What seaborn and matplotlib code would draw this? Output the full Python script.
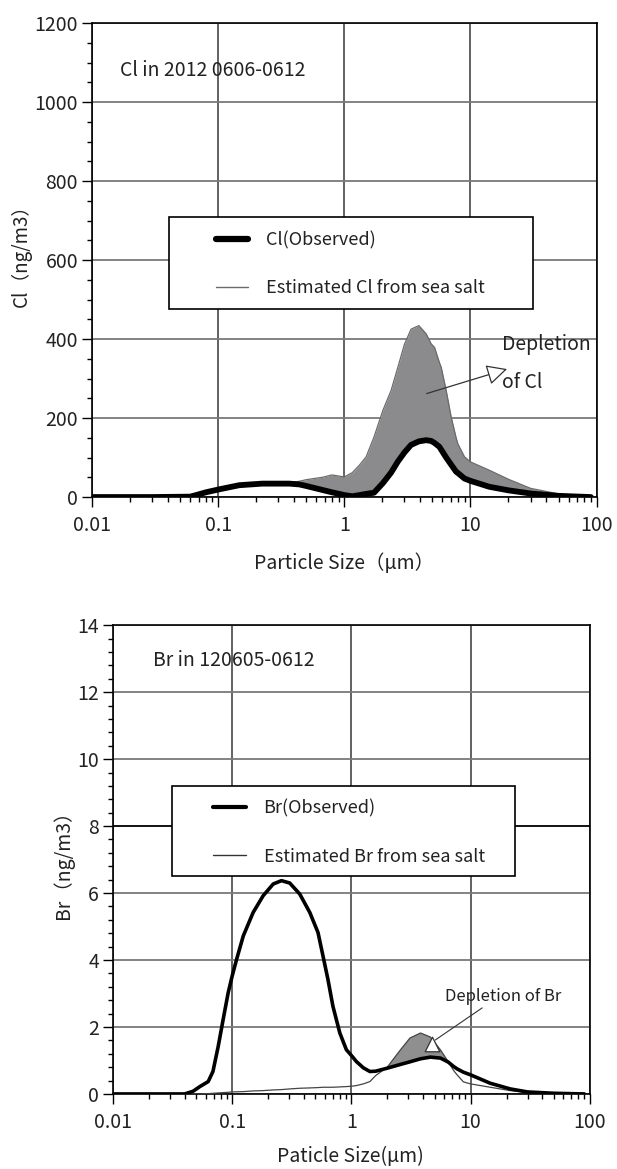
import numpy as np
import pandas as pd
import matplotlib
matplotlib.use("Agg")
import matplotlib.pyplot as plt
import seaborn as sns
from matplotlib.ticker import FixedLocator, FixedFormatter, MultipleLocator, LogLocator, NullFormatter
from matplotlib.lines import Line2D
from matplotlib.patches import Rectangle

# ---------------- data ----------------
cl_size = [0.01, 0.03, 0.06, 0.067, 0.08, 0.1, 0.147, 0.224, 0.367, 0.44, 0.5, 0.67, 0.8, 0.91,
           1.0, 1.16, 1.32, 1.49, 1.72, 2.02, 2.35, 2.66, 3.0, 3.38, 3.9, 4.46, 4.88, 5.19,
           5.68, 5.86, 6.42, 7.03, 7.7, 7.94, 8.96, 10, 14.1, 20, 30, 50, 90]
cl_observed = [0, 0, 1, 5, 12, 19, 30, 34, 34, 32, 28, 18, 12, 8,
               5, 2, 5, 8, 11, 35, 62, 90, 113, 132, 141, 144, 142, 137,
               127, 120, 100, 82, 64, 61, 47, 41, 26, 17, 9, 3, 0]
cl_seasalt = [0, 0, 1, 5, 12, 19, 30, 34, 36, 40, 44, 50, 56, 53,
              51, 62, 81, 102, 152, 219, 270, 329, 387, 425, 434, 413, 388, 379,
              340, 329, 270, 203, 150, 135, 102, 89, 68, 45, 22, 8, 2]

br_size = [0.01, 0.04, 0.047, 0.0536, 0.063, 0.069, 0.0764, 0.084, 0.0926, 0.1, 0.109, 0.124,
           0.15, 0.182, 0.221, 0.259, 0.304, 0.369, 0.448, 0.525, 0.578, 0.636, 0.70, 0.80,
           0.908, 1.0, 1.10, 1.26, 1.43, 1.6, 2.0, 2.57, 3.1, 3.8, 4.6, 5.6, 6.5, 7.2, 7.7,
           8.7, 10, 14.6, 21.5, 30, 50, 90]
br_observed = [0, 0, 0.08, 0.22, 0.37, 0.67, 1.42, 2.22, 3.02, 3.52, 4.02, 4.72,
               5.42, 5.92, 6.27, 6.37, 6.30, 5.97, 5.42, 4.82, 4.12, 3.42, 2.62, 1.82,
               1.32, 1.15, 0.97, 0.78, 0.67, 0.68, 0.77, 0.88, 0.96, 1.05, 1.10, 1.07, 0.95,
               0.82, 0.75, 0.65, 0.57, 0.32, 0.15, 0.06, 0.02, 0]
br_seasalt = [0, 0, 0, 0, 0.01, 0.02, 0.03, 0.04, 0.05, 0.06, 0.065, 0.07,
              0.09, 0.10, 0.12, 0.13, 0.15, 0.17, 0.18, 0.19, 0.2, 0.2, 0.2, 0.21,
              0.22, 0.23, 0.25, 0.3, 0.37, 0.55, 0.8, 1.31, 1.67, 1.82, 1.70, 1.31, 0.96,
              0.7, 0.57, 0.36, 0.3, 0.2, 0.1, 0.04, 0.01, 0]

x_ticks = [0.01, 0.1, 1, 10, 100]
x_tick_labels = ["0.01", "0.1", "1", "10", "100"]
cl_yticks = [0, 200, 400, 600, 800, 1000, 1200]
br_yticks = [0, 2, 4, 6, 8, 10, 12, 14]

# ---------------- style ----------------
sns.set_theme(style="white")
plt.rcParams["font.family"] = ["Noto Sans CJK JP", "DejaVu Sans"]
plt.rcParams["axes.unicode_minus"] = False

fig = plt.figure(figsize=(6.17, 11.69), dpi=100)
fig.patch.set_facecolor("white")
ax1 = fig.add_axes([0.149, 0.5748, 0.818, 0.4055])
ax2 = fig.add_axes([0.183, 0.0642, 0.773, 0.401])


def style_axes(ax, yticks, yminor, ymax):
    ax.set_xscale("log")
    ax.set_xlim(0.01, 100)
    ax.set_ylim(0, ymax)
    ax.xaxis.set_major_locator(FixedLocator(x_ticks))
    ax.xaxis.set_major_formatter(FixedFormatter(x_tick_labels))
    ax.xaxis.set_minor_locator(LogLocator(base=10, subs=np.arange(2, 10)))
    ax.xaxis.set_minor_formatter(NullFormatter())
    ax.yaxis.set_major_locator(FixedLocator(yticks))
    ax.yaxis.set_major_formatter(FixedFormatter([str(v) for v in yticks]))
    ax.yaxis.set_minor_locator(MultipleLocator(yminor))
    ax.tick_params(which="both", direction="out", color="black", width=1.0,
                   bottom=True, left=True, top=False, right=False)
    ax.tick_params(which="major", length=7, labelsize=14, labelcolor="#222222")
    ax.tick_params(which="minor", length=3.5)
    ax.tick_params(axis="x", which="major", pad=6)
    ax.tick_params(axis="y", which="major", pad=3)
    for s in ax.spines.values():
        s.set_visible(True)
        s.set_color("black")
        s.set_linewidth(1.2)
    ax.set_axisbelow(True)
    ax.grid(True, which="major", axis="y", color="#7a7a7a", lw=1.3)
    ax.grid(True, which="major", axis="x", color="#555555", lw=1.3)


# ---------------- top: Cl ----------------
style_axes(ax1, cl_yticks, 50, 1200)
ax1.fill_between(cl_size, cl_observed, cl_seasalt,
                 where=np.array(cl_seasalt) >= np.array(cl_observed),
                 interpolate=True, color="#8b8b8d", lw=0, zorder=2)
sns.lineplot(x=cl_size, y=cl_seasalt, ax=ax1, color="#6a6a6a", lw=0.9,
             estimator=None, sort=False, zorder=3)
sns.lineplot(x=cl_size, y=cl_observed, ax=ax1, color="black", lw=4.2,
             estimator=None, sort=False, zorder=4)
ax1.set_xlim(0.01, 100)
ax1.set_ylim(0, 1200)

ax1.set_xlabel("Particle Size（μm）", fontsize=14, color="#222222")
ax1.xaxis.set_label_coords(0.5, -0.141)
ax1.xaxis.label.set_va("center")
ax1.set_ylabel("Cl（ng/m3）", fontsize=13.5, color="#222222")
ax1.yaxis.set_label_coords(-0.139, 0.519)
ax1.yaxis.label.set_va("center")

ax1.text(0.0167, 1081, "Cl in 2012 0606-0612", fontsize=14, va="center", ha="left",
         color="#222222")
ax1.text(17.9, 385, "Depletion", fontsize=14, va="center", ha="left", color="#222222")
ax1.text(17.9, 289, "of Cl", fontsize=14, va="center", ha="left", color="#222222")
ax1.annotate("", xy=(19.5, 324), xytext=(4.5, 262),
             arrowprops=dict(arrowstyle="-|>,head_length=0.9,head_width=0.45",
                             fc="white", ec="#333333", lw=0.9, shrinkA=0, shrinkB=0,
                             mutation_scale=14), zorder=6)

ax1.add_patch(Rectangle((0.152, 0.397), 0.721, 0.194, transform=ax1.transAxes,
                        facecolor="white", edgecolor="black", lw=1.2, zorder=5))
leg1 = ax1.legend(handles=[Line2D([], [], color="black", lw=4.5),
                           Line2D([], [], color="#6a6a6a", lw=1.0)],
                  labels=["Cl(Observed)", "Estimated Cl from sea salt"],
                  loc="upper left", bbox_to_anchor=(0.245, 0.561), frameon=False,
                  fontsize=13, handlelength=1.8, handletextpad=1.0, labelspacing=1.65,
                  borderpad=0, borderaxespad=0, labelcolor="#222222")
leg1.set_zorder(7)

# ---------------- bottom: Br ----------------
style_axes(ax2, br_yticks, 0.4, 14)
ax2.fill_between(br_size, br_observed, br_seasalt,
                 where=np.array(br_seasalt) >= np.array(br_observed),
                 interpolate=True, color="#8f8f8f", lw=0, zorder=2)
sns.lineplot(x=br_size, y=br_seasalt, ax=ax2, color="#444444", lw=0.9,
             estimator=None, sort=False, zorder=3)
sns.lineplot(x=br_size, y=br_observed, ax=ax2, color="black", lw=2.6,
             estimator=None, sort=False, zorder=4)
ax2.set_xlim(0.01, 100)
ax2.set_ylim(0, 14)
ygl = ax2.get_ygridlines()
ygl[4].set_color("black")

ax2.set_xlabel("Paticle Size(μm)", fontsize=14, color="#222222")
ax2.xaxis.set_label_coords(0.497, -0.134)
ax2.xaxis.label.set_va("center")
ax2.set_ylabel("Br（ng/m3）", fontsize=14, color="#222222")
ax2.yaxis.set_label_coords(-0.105, 0.499)
ax2.yaxis.label.set_va("center")

ax2.text(0.0216, 12.95, "Br in 120605-0612", fontsize=14, va="center", ha="left",
         color="#222222")
ax2.text(6.1, 2.9, "Depletion of Br", fontsize=12, va="center", ha="left", color="#222222")
ax2.annotate("", xy=(5.05, 1.61), xytext=(12.5, 2.57),
             arrowprops=dict(arrowstyle="-", color="#333333", lw=0.8,
                             shrinkA=0, shrinkB=0), zorder=6)
ax2.scatter([4.76], [1.5], marker="^", s=110, facecolor="white", edgecolor="#333333",
            linewidth=0.9, zorder=6)

ax2.add_patch(Rectangle((0.124, 0.465), 0.719, 0.192, transform=ax2.transAxes,
                        facecolor="white", edgecolor="black", lw=1.2, zorder=5))
leg2 = ax2.legend(handles=[Line2D([], [], color="black", lw=3.0),
                           Line2D([], [], color="#333333", lw=1.0)],
                  labels=["Br(Observed)", "Estimated Br from sea salt"],
                  loc="upper left", bbox_to_anchor=(0.21, 0.628), frameon=False,
                  fontsize=13, handlelength=1.8, handletextpad=1.0, labelspacing=1.65,
                  borderpad=0, borderaxespad=0, labelcolor="#222222")
leg2.set_zorder(7)

fig.savefig("out.png", dpi=100, facecolor="white")
